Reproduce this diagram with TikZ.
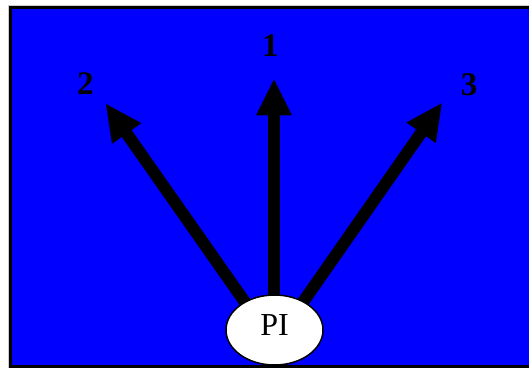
\documentclass[tikz,border=0pt]{standalone}
\usepackage{fontspec}
\setmainfont{Liberation Serif}
\usetikzlibrary{arrows.meta,shapes.geometric}
\definecolor{bg}{RGB}{0,0,255}
\begin{document}
\begin{tikzpicture}[x=1pt,y=-1pt,
  frame/.style={draw=black,line width=3pt,fill=bg},
  ray/.style={line width=12pt,-{Triangle[length=36pt,width=36pt,line width=0pt]}},
  num/.style={font=\fontsize{33}{38}\selectfont\bfseries,inner sep=0pt},
  hub/.style={ellipse,draw=black,line width=1.5pt,fill=white,minimum width=97pt,minimum height=70pt,inner sep=0pt,text height=21pt,text depth=11pt,font=\fontsize{32}{36}\selectfont}]
\useasboundingbox (0,0) rectangle (529,367);
\fill[white] (0,0) rectangle (529,367);
\begin{scope}
\clip (0,0) rectangle (529,367);
\draw[gray!40,line width=1pt] (8.5,380) -- (8.5,5.5) -- (540,5.5);
\draw[frame] (10.5,7.5) rectangle (540,366.5);
\end{scope}
\coordinate (src) at (274,343.6);
\coordinate (t1) at (274,79.3);
\coordinate (t2) at (106,104);
\coordinate (t3) at (441.7,103.3);
\draw[ray] (src) -- (t1);
\draw[ray] (src) -- (t2);
\draw[ray] (src) -- (t3);
\node[hub] (pi) at (274.5,330) {PI};
\node[num] (n1) at (270.3,45.5) {1};
\node[num] (n2) at (85.3,84) {2};
\node[num] (n3) at (469,85) {3};
\end{tikzpicture}
\end{document}
